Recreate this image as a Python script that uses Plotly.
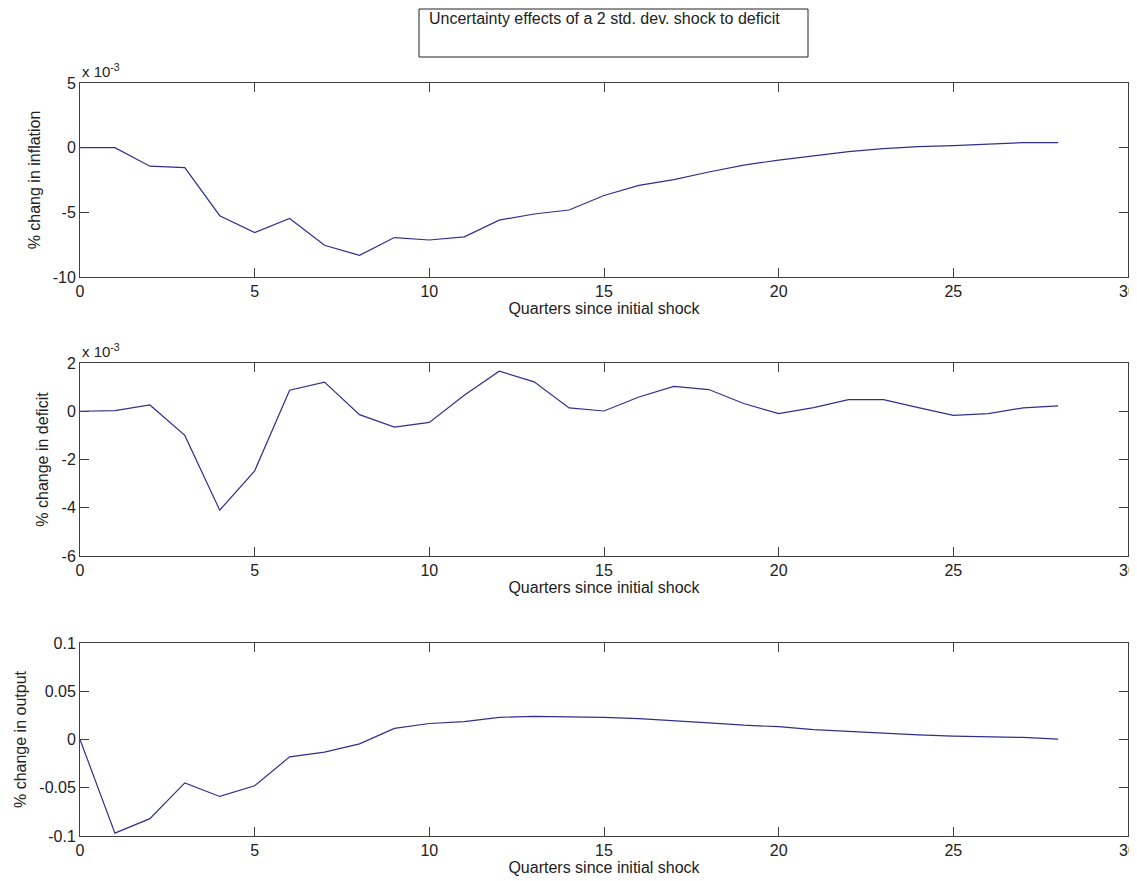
import plotly.graph_objects as go

quarters = list(range(29))

# values in units of 1e-3
inflation_e3 = [0.0, 0.0, -1.43, -1.54, -5.26, -6.56, -5.47, -7.55, -8.33, -6.95,
                -7.14, -6.9, -5.6, -5.13, -4.82, -3.70, -2.92, -2.47, -1.88, -1.35,
                -0.96, -0.65, -0.31, -0.08, 0.08, 0.16, 0.26, 0.39, 0.39]
deficit_e3 = [0.0, 0.03, 0.26, -1.0, -4.1, -2.47, 0.87, 1.21, -0.14, -0.66,
              -0.46, 0.66, 1.66, 1.22, 0.14, 0.01, 0.59, 1.03, 0.90, 0.32,
              -0.10, 0.15, 0.48, 0.48, 0.15, -0.17, -0.10, 0.14, 0.22]
output = [0.0, -0.097, -0.082, -0.045, -0.059, -0.048, -0.018, -0.013, -0.0045, 0.0115,
          0.0166, 0.0186, 0.023, 0.024, 0.0234, 0.023, 0.0217, 0.0197, 0.0172, 0.0148,
          0.0133, 0.0103, 0.0083, 0.0066, 0.0048, 0.0034, 0.0031, 0.0021, 0.0003]

x_ticks = [0, 5, 10, 15, 20, 25, 30]
inf_ticks = [5, 0, -5, -10]
def_ticks = [2, 0, -2, -4, -6]
out_ticks = [0.1, 0.05, 0, -0.05, -0.1]
out_ticklabels = ["0.1", "0.05", "0", "-0.05", "-0.1"]

title_text = "Uncertainty effects of a 2 std. dev. shock to deficit"
x_title = "Quarters since initial shock"
y_titles = ["% chang in inflation", "% change in deficit", "% change in output"]

# page body has an 8px margin; size the figure so it fills the window
OFF = 8
W, H = 1137 - OFF, 881 - OFF
ML, MR, MT, MB = 80 - OFF, 9, 83 - OFF, 45
plot_h = H - MT - MB
plot_w = W - ML - MR

def py(page_y):
    return (H - MB - (page_y - OFF)) / plot_h

def px(page_x):
    return (page_x - OFF - ML) / plot_w

def dom(top_px, bot_px):
    return [py(bot_px), py(top_px)]

LINE = "#30308c"
AX = "#404040"
TXT = "#222222"
FONT = "Liberation Sans, Arial, sans-serif"

fig = go.Figure()
series = [inflation_e3, deficit_e3, output]
for i, s in enumerate(series):
    fig.add_trace(go.Scatter(x=quarters, y=s, mode="lines",
                             line=dict(color=LINE, width=1.2),
                             xaxis="x" if i == 0 else f"x{i+1}",
                             yaxis="y" if i == 0 else f"y{i+1}",
                             showlegend=False, hoverinfo="skip"))

domains = [dom(83, 277), dom(363, 556), dom(643, 836)]
yranges = [[-10, 5], [-6, 2], [-0.1, 0.1]]
ytickvals = [inf_ticks, def_ticks, out_ticks]
yticktexts = [[str(v) for v in inf_ticks], [str(v) for v in def_ticks], out_ticklabels]

common = dict(showline=True, linecolor=AX, linewidth=1, mirror="ticks",
              ticks="inside", ticklen=9, tickcolor=AX, tickwidth=1,
              showgrid=False, zeroline=False, automargin=False,
              tickfont=dict(family=FONT, size=16, color=TXT))

layout = dict(width=W, height=H, margin=dict(l=ML, r=MR, t=MT, b=MB, autoexpand=False),
              paper_bgcolor="white", plot_bgcolor="white",
              font=dict(family=FONT, size=16, color=TXT))
for i in range(3):
    xk = "xaxis" if i == 0 else f"xaxis{i+1}"
    yk = "yaxis" if i == 0 else f"yaxis{i+1}"
    ya = "y" if i == 0 else f"y{i+1}"
    xa = "x" if i == 0 else f"x{i+1}"
    layout[xk] = dict(common, range=[0, 30], tickvals=x_ticks, anchor=ya,
                      domain=[0, 1],
                      title=dict(text=x_title, standoff=0,
                                 font=dict(family=FONT, size=16, color=TXT)))
    layout[yk] = dict(common, range=yranges[i], tickvals=ytickvals[i],
                      ticktext=yticktexts[i], anchor=xa, domain=domains[i],
                      title=dict(text=y_titles[i], standoff=8,
                                 font=dict(family=FONT, size=16, color=TXT)))

fig.update_layout(**layout)

# exponent labels
for i in range(2):
    yref = "y domain" if i == 0 else "y2 domain"
    xref = "x domain" if i == 0 else "x2 domain"
    fig.add_annotation(x=0, y=1, xref=xref, yref=yref, xanchor="left", yanchor="bottom",
                       text="x 10<sup>-3</sup>", showarrow=False, yshift=1,
                       font=dict(family=FONT, size=15, color=TXT))

# title box
fig.add_shape(type="rect", xref="paper", yref="paper",
              x0=px(419), x1=px(808), y0=py(57), y1=py(9),
              line=dict(color=TXT, width=1), fillcolor="white", layer="below")
fig.add_annotation(x=px(427), y=py(18), xref="paper", yref="paper",
                   xanchor="left", yanchor="middle",
                   text=title_text, showarrow=False,
                   font=dict(family=FONT, size=16, color=TXT))

fig.write_html("out.html")
